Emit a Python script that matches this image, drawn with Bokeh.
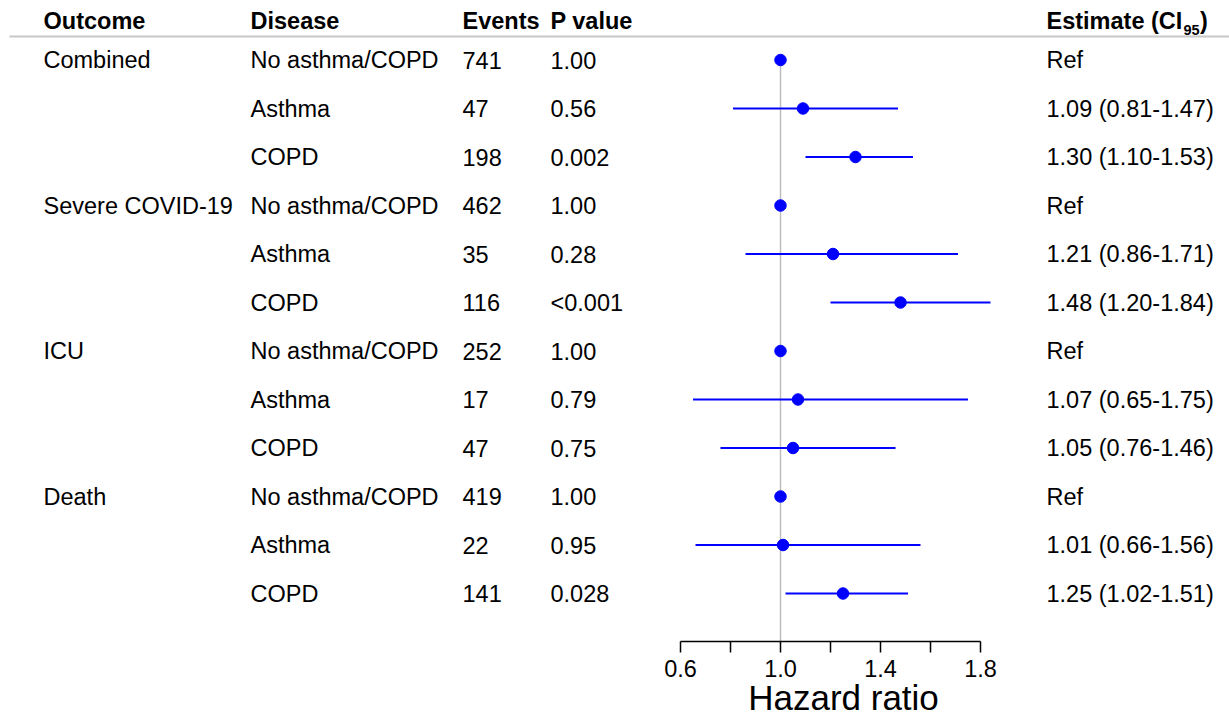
from bokeh.plotting import figure
from bokeh.models import (ColumnDataSource, Range1d, LinearAxis, FixedTicker,
                          PrintfTickFormatter)
from bokeh.core.properties import value
from bokeh.embed import file_html
from bokeh.resources import INLINE

# ---------------- data ----------------
outcomes = ["Combined", "Severe COVID-19", "ICU", "Death"]
diseases = ["No asthma/COPD", "Asthma", "COPD"]
events = [741, 47, 198, 462, 35, 116, 252, 17, 47, 419, 22, 141]
p_values = ["1.00", "0.56", "0.002", "1.00", "0.28", "<0.001",
            "1.00", "0.79", "0.75", "1.00", "0.95", "0.028"]
hr = [1.00, 1.09, 1.30, 1.00, 1.21, 1.48, 1.00, 1.07, 1.05, 1.00, 1.01, 1.25]
lower = [None, 0.81, 1.10, None, 0.86, 1.20, None, 0.65, 0.76, None, 0.66, 1.02]
upper = [None, 1.47, 1.53, None, 1.71, 1.84, None, 1.75, 1.46, None, 1.56, 1.51]
headers = ["Outcome", "Disease", "Events", "P value"]
tick_major = [0.6, 1.0, 1.4, 1.8]
tick_minor = [0.8, 1.2, 1.6]
axis_title = "Hazard ratio"

# ---------------- layout helpers ----------------
W, H = 1229, 716
PX_PER_UNIT = 250.0
X0 = 0.6 - 680 / PX_PER_UNIT
X1 = X0 + W / PX_PER_UNIT
ROW0_PX, ROW_STEP = 59.5, 48.5
Y_TOP = -ROW0_PX / ROW_STEP
Y_BOT = (H - ROW0_PX) / ROW_STEP
AXIS_PX = 641.0


def sx(px):
    """screen x -> data x"""
    return X0 + px / PX_PER_UNIT


def sy(py):
    """screen y -> data y (row units)"""
    return (py - ROW0_PX) / ROW_STEP


n = len(hr)
rows = list(range(n))
out_col = []
dis_col = []
for i in rows:
    out_col.append(outcomes[i // 3] if i % 3 == 0 else "")
    dis_col.append(diseases[i % 3])
est_col = ["Ref" if lower[i] is None else
           f"{hr[i]:.2f} ({lower[i]:.2f}-{upper[i]:.2f})" for i in rows]

p = figure(width=W, height=H, output_backend="svg", toolbar_location=None,
           x_range=Range1d(X0, X1), y_range=Range1d(Y_BOT, Y_TOP),
           x_axis_location=None, y_axis_location=None,
           min_border_left=0, min_border_right=0, min_border_top=0,
           min_border_bottom=0)
p.outline_line_color = None
p.xgrid.visible = False
p.ygrid.visible = False
p.background_fill_color = "white"
p.border_fill_color = "white"

FONT = value("Liberation Sans")
FS = "23.5px"

# header underline
p.segment(x0=[sx(9)], x1=[X1], y0=[sy(36)], y1=[sy(36)],
          line_color="#C8C8C8", line_width=2)

# reference vertical line
p.segment(x0=[1.0], x1=[1.0], y0=[0], y1=[sy(AXIS_PX)],
          line_color="#BEBEBE", line_width=1.5)

# header texts
HDR_Y = 20.5
hdr_x = [sx(43), sx(250), sx(462), sx(550)]
p.text(x=hdr_x, y=[sy(HDR_Y)] * 4, text=headers, text_font=FONT,
       text_font_size=FS, text_font_style="bold", text_baseline="middle",
       text_align="left", text_color="black")
# Estimate (CI95) header with subscript
p.text(x=[sx(1046)], y=[sy(HDR_Y)], text=["Estimate (CI"], text_font=FONT,
       text_font_size=FS, text_font_style="bold", text_baseline="middle",
       text_align="left", text_color="black")
p.text(x=[sx(1183)], y=[sy(HDR_Y + 9)], text=["95"], text_font=FONT,
       text_font_size="14.5px", text_font_style="bold", text_baseline="middle",
       text_align="left", text_color="black")
p.text(x=[sx(1199.5)], y=[sy(HDR_Y)], text=[")"], text_font=FONT,
       text_font_size=FS, text_font_style="bold", text_baseline="middle",
       text_align="left", text_color="black")

src = ColumnDataSource(dict(
    y=rows, out=out_col, dis=dis_col, ev=[str(e) for e in events],
    pv=p_values, est=est_col))
for col, xpix in [("out", 43), ("dis", 250), ("ev", 462), ("pv", 550),
                  ("est", 1046)]:
    p.text(x=sx(xpix), y="y", text=col, source=src, text_font=FONT,
           text_font_size=FS, text_baseline="middle", text_align="left",
           text_color="black")

# CI lines
ci_rows = [i for i in rows if lower[i] is not None]
ci_src = ColumnDataSource(dict(
    y=ci_rows, lo=[lower[i] for i in ci_rows], hi=[upper[i] for i in ci_rows]))
p.segment(x0="lo", x1="hi", y0="y", y1="y", source=ci_src,
          line_color="#0000FF", line_width=1.8)

# points
pt_src = ColumnDataSource(dict(x=hr, y=rows))
p.scatter(x="x", y="y", source=pt_src, size=11.5, marker="circle",
          fill_color="#0000FF", line_color="#0000FF")

# x axis, fixed inside the frame at the bottom of the forest panel
ax = LinearAxis(ticker=FixedTicker(ticks=tick_major, minor_ticks=tick_minor),
                bounds=(0.6, 1.8), formatter=PrintfTickFormatter(format="%.1f"),
                fixed_location=sy(AXIS_PX))
ax.major_label_text_font = "Liberation Sans"
ax.major_label_text_font_size = "23.5px"
ax.major_label_text_color = "black"
ax.major_label_standoff = 7
ax.major_tick_in = 0
ax.major_tick_out = 11
ax.minor_tick_in = 0
ax.minor_tick_out = 11
ax.axis_line_color = "black"
ax.axis_line_width = 1.5
ax.major_tick_line_color = "black"
ax.major_tick_line_width = 1.5
ax.minor_tick_line_color = "black"
ax.minor_tick_line_width = 1.5
p.add_layout(ax, "below")

# axis title centred under the axis
p.text(x=[1.252], y=[sy(697)], text=[axis_title], text_font=FONT,
       text_font_size="35px", text_baseline="middle", text_align="center",
       text_color="black")

open("out.html", "w").write(file_html(p, INLINE))
